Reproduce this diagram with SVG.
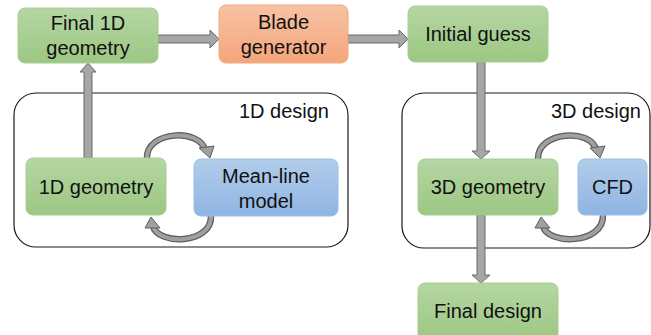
<svg xmlns="http://www.w3.org/2000/svg" width="651" height="335" viewBox="0 0 651 335">
  <defs>
    <linearGradient id="gGreen" x1="0" y1="0" x2="0" y2="1">
      <stop offset="0" stop-color="#b5d6a3"/>
      <stop offset="1" stop-color="#9cc783"/>
    </linearGradient>
    <linearGradient id="gOrange" x1="0" y1="0" x2="0" y2="1">
      <stop offset="0" stop-color="#f7c2a4"/>
      <stop offset="1" stop-color="#f4a57c"/>
    </linearGradient>
    <linearGradient id="gBlue" x1="0" y1="0" x2="0" y2="1">
      <stop offset="0" stop-color="#b2cdeb"/>
      <stop offset="1" stop-color="#8fb4e2"/>
    </linearGradient>
  </defs>
  <style>
    text { font-family: "Liberation Sans", Arial, sans-serif; font-size: 20px; fill: #111; text-anchor: middle; }
    .lbl { text-anchor: end; }
    .green { fill: url(#gGreen); stroke: #a8cf92; stroke-width: 1; }
    .orange { fill: url(#gOrange); stroke: #f2a97f; stroke-width: 1; }
    .blue { fill: url(#gBlue); stroke: #9dbde6; stroke-width: 1; }
    .frame { fill: #fff; stroke: #1a1a1a; stroke-width: 1.2; }
    .block { fill: #a6a6a6; stroke: #6b6b6b; stroke-width: 1; stroke-linejoin: miter; }
    .arcOut { fill: none; stroke: #5e5e5e; stroke-width: 6.5; }
    .arcIn { fill: none; stroke: #a0a0a0; stroke-width: 4; }
    .head { fill: #a0a0a0; stroke: #5e5e5e; stroke-width: 1; }
  </style>

  <rect width="651" height="335" fill="#fff"/>

  <!-- design loop frames -->
  <g id="frame-1d">
    <rect class="frame" x="14" y="93" width="334" height="154" rx="22"/>
    <text class="lbl" x="329" y="118">1D design</text>
  </g>
  <g id="frame-3d">
    <rect class="frame" x="402" y="93" width="248" height="155" rx="22"/>
    <text class="lbl" x="641" y="118">3D design</text>
  </g>

  <!-- connectors -->
  <g id="connectors">
    <polygon class="block" points="158,35 210,35 210,30 219,39 210,48 210,43 158,43"/>
    <polygon class="block" points="348,35 399,35 399,30 408,39 399,48 399,43 348,43"/>
    <polygon class="block" points="84,158 84,72 80,72 88,63 96,72 92,72 92,158"/>
    <polygon class="block" points="477,62 485,62 485,151 490,151 481,159 472,151 477,151"/>
    <polygon class="block" points="477,215 485,215 485,275 490,275 481,283 472,275 477,275"/>

    <!-- 1D loop -->
    <path class="arcOut" d="M147,158 C146,131 200,128 205,150"/>
    <path class="arcIn" d="M147,158 C146,131 200,128 205,150"/>
    <polygon class="head" points="199,148 214,146 210,158"/>
    <path class="arcOut" d="M211,216 C212,245 157,245 153,226"/>
    <path class="arcIn" d="M211,216 C212,245 157,245 153,226"/>
    <polygon class="head" points="145,228 160,228 151,217"/>

    <!-- 3D loop -->
    <path class="arcOut" d="M538,159 C537,131 592,128 596,150"/>
    <path class="arcIn" d="M538,159 C537,131 592,128 596,150"/>
    <polygon class="head" points="590,148 605,146 600,158"/>
    <path class="arcOut" d="M603,215 C604,245 547,245 543,226"/>
    <path class="arcIn" d="M603,215 C604,245 547,245 543,226"/>
    <polygon class="head" points="535,228 550,228 541,217"/>
  </g>

  <!-- nodes -->
  <g id="final-1d">
    <rect class="green" x="18" y="8" width="140" height="55" rx="7"/>
    <text x="88" y="30">Final 1D</text>
    <text x="88" y="55">geometry</text>
  </g>
  <g id="blade-generator">
    <rect class="orange" x="219" y="5" width="129" height="58" rx="7"/>
    <text x="283.5" y="29">Blade</text>
    <text x="283.5" y="54">generator</text>
  </g>
  <g id="initial-guess">
    <rect class="green" x="408" y="6" width="140" height="56" rx="7"/>
    <text x="478" y="41">Initial guess</text>
  </g>
  <g id="geometry-1d">
    <rect class="green" x="26" y="158" width="140" height="57" rx="7"/>
    <text x="96" y="194">1D geometry</text>
  </g>
  <g id="mean-line">
    <rect class="blue" x="194" y="159" width="144" height="57" rx="7"/>
    <text x="266" y="183">Mean-line</text>
    <text x="266" y="208">model</text>
  </g>
  <g id="geometry-3d">
    <rect class="green" x="418" y="159" width="140" height="56" rx="7"/>
    <text x="488" y="194">3D geometry</text>
  </g>
  <g id="cfd">
    <rect class="blue" x="578" y="159" width="69" height="56" rx="7"/>
    <text x="612.5" y="194">CFD</text>
  </g>
  <g id="final-design">
    <rect class="green" x="418" y="283" width="140" height="58" rx="7"/>
    <text x="488" y="318">Final design</text>
  </g>
</svg>
